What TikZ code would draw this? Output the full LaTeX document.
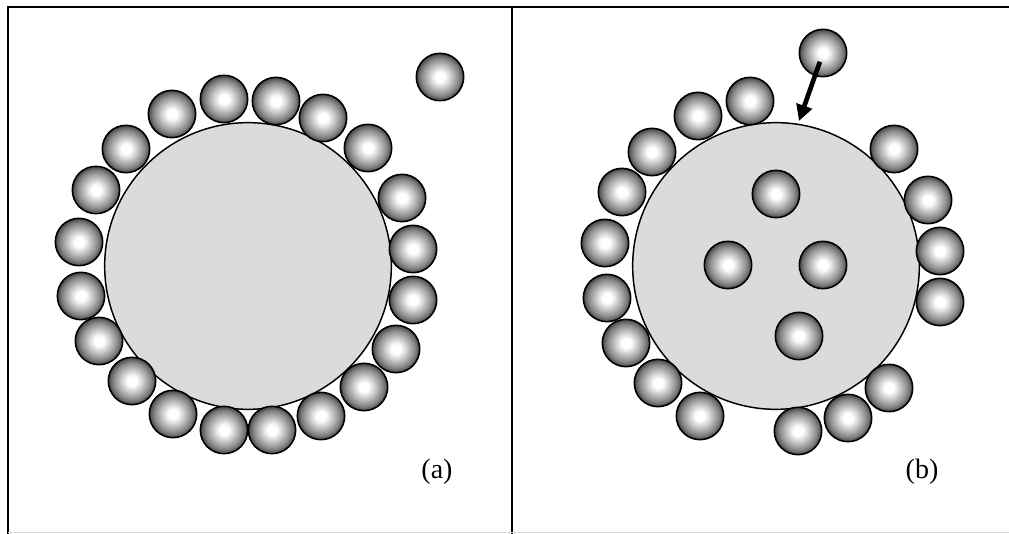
\documentclass[tikz,border=0pt]{standalone}
\usepackage{fontspec}
\setmainfont{Liberation Serif}
\usetikzlibrary{arrows.meta}
\pgfdeclareradialshading{bead}{\pgfpoint{0bp}{0bp}}{color(0bp)=(white); color(5bp)=(white); color(13bp)=(black!25); color(20bp)=(black!48); color(25bp)=(black!72); color(50bp)=(black!72)}
\tikzset{
  bead/.style={circle, draw=black, line width=1.2pt, shading=bead, minimum size=35.5pt, inner sep=0pt},
  drop/.style={circle, draw=black, line width=1.1pt, fill=black!14, minimum size=215pt, inner sep=0pt},
  push/.style={line width=3.5pt, -{Triangle[length=12pt, width=12pt]}},
  tag/.style={font=\fontsize{21}{25}\selectfont, inner sep=0pt}
}
\begin{document}
\begin{tikzpicture}[x=0.75pt,y=-0.75pt]
\useasboundingbox (0,0) rectangle (1009,534);
% frame
\draw[line width=1.5pt] (7,7) -- (1009,7);
\draw[line width=1.5pt] (8,7) -- (8,534);
\draw[line width=2pt] (512,7) -- (512,534);
\draw[black!15, line width=0.8pt] (8,532.5) -- (1009,532.5);
% (a) droplet covered by particles
\node[drop] (da) at (248,266) {};
\node[bead] (a1) at (172,114) {};
\node[bead] (a2) at (224,99) {};
\node[bead] (a3) at (276,101) {};
\node[bead] (a4) at (323,118) {};
\node[bead] (a5) at (368,148) {};
\node[bead] (a6) at (402,198) {};
\node[bead] (a7) at (413,249) {};
\node[bead] (a8) at (413,300) {};
\node[bead] (a9) at (396,349) {};
\node[bead] (a10) at (364,387) {};
\node[bead] (a11) at (321,416) {};
\node[bead] (a12) at (272,430) {};
\node[bead] (a13) at (224,430) {};
\node[bead] (a14) at (173,414) {};
\node[bead] (a15) at (132,381) {};
\node[bead] (a16) at (99,341) {};
\node[bead] (a17) at (81,296) {};
\node[bead] (a18) at (79,242) {};
\node[bead] (a19) at (96,190) {};
\node[bead] (a20) at (126,149) {};
\node[bead] (afree) at (440,77) {};
\node[tag] (la) at (437,472) {(a)};
% (b) droplet with particles inside
\node[drop] (db) at (776,266) {};
\node[bead] (b1) at (750,101) {};
\node[bead] (b2) at (698,116) {};
\node[bead] (b3) at (652,152) {};
\node[bead] (b4) at (622,192) {};
\node[bead] (b5) at (605,243) {};
\node[bead] (b6) at (607,298) {};
\node[bead] (b7) at (626,343) {};
\node[bead] (b8) at (658,383) {};
\node[bead] (b9) at (700,416) {};
\node[bead] (b10) at (798,431) {};
\node[bead] (b11) at (848,418) {};
\node[bead] (b12) at (889,388) {};
\node[bead] (b13) at (940,302) {};
\node[bead] (b14) at (940,251) {};
\node[bead] (b15) at (928,200) {};
\node[bead] (b16) at (894,149) {};
\node[bead] (in1) at (776,194) {};
\node[bead] (in2) at (728,265) {};
\node[bead] (in3) at (823,265) {};
\node[bead] (in4) at (799,336) {};
\node[bead] (bfree) at (823,53) {};
\coordinate (hit) at (799,121);
\draw[push, shorten <=7pt] (bfree.center) -- (hit);
\node[tag] (lb) at (922,472) {(b)};
\end{tikzpicture}
\end{document}
